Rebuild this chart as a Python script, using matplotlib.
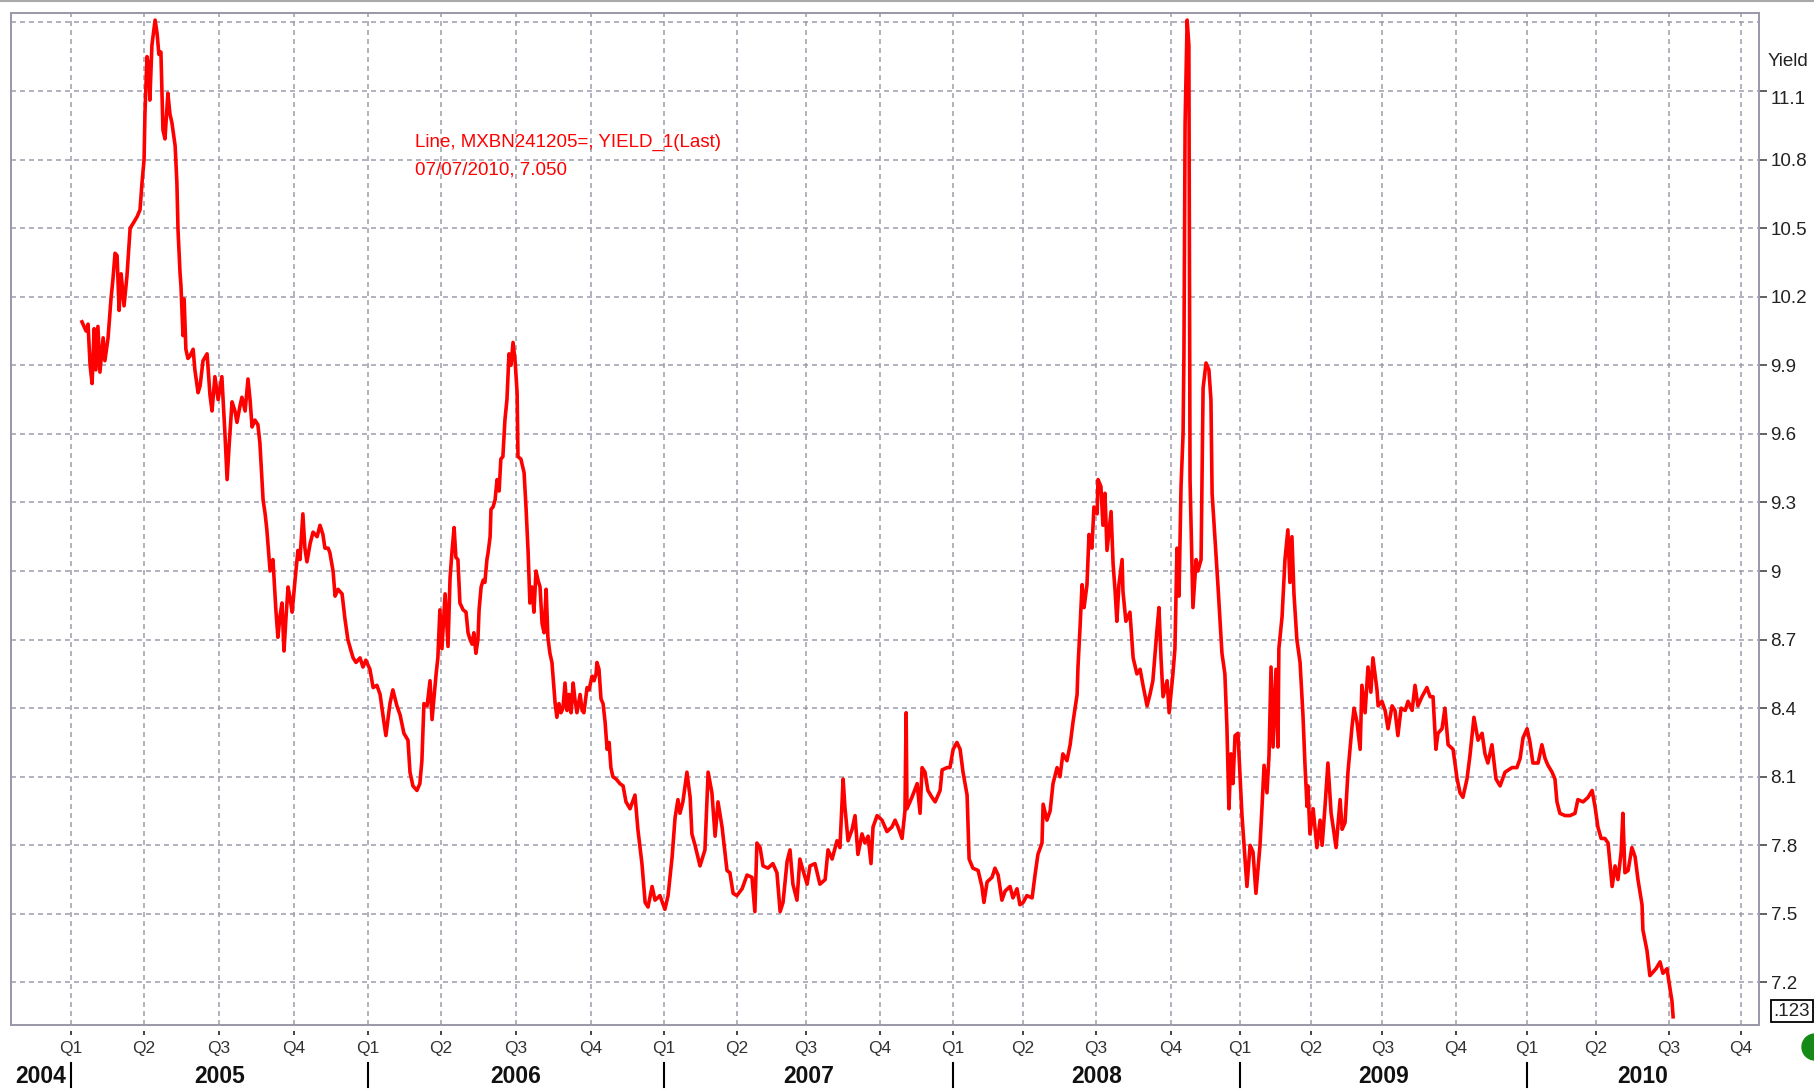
import matplotlib
matplotlib.use("Agg")
import matplotlib.pyplot as plt
import matplotlib.transforms as mtransforms
from matplotlib.lines import Line2D
from matplotlib.patches import Ellipse
import numpy as np

plt.rcParams['font.family'] = ['Liberation Sans', 'DejaVu Sans']

# ---- data (x in chart years, y = yield) ----
t2005 = [2005.036, 2005.043, 2005.050, 2005.057, 2005.064, 2005.071, 2005.078, 2005.084, 2005.091, 2005.098,
         2005.109, 2005.115, 2005.126, 2005.136, 2005.143, 2005.150, 2005.157, 2005.164, 2005.171, 2005.181,
         2005.191, 2005.202, 2005.212, 2005.226, 2005.236, 2005.243, 2005.250, 2005.253, 2005.260, 2005.267,
         2005.270, 2005.277, 2005.288, 2005.295, 2005.301, 2005.308, 2005.315, 2005.322, 2005.332, 2005.339,
         2005.346, 2005.357, 2005.363, 2005.367, 2005.374, 2005.377, 2005.384, 2005.388, 2005.394, 2005.401,
         2005.408, 2005.419, 2005.425, 2005.436, 2005.443, 2005.453, 2005.467, 2005.477, 2005.484, 2005.494,
         2005.505, 2005.518, 2005.529, 2005.536, 2005.543, 2005.553, 2005.563, 2005.570, 2005.580, 2005.587,
         2005.598, 2005.608, 2005.615, 2005.622, 2005.632, 2005.642, 2005.649, 2005.660, 2005.667, 2005.673,
         2005.684, 2005.694, 2005.704, 2005.711, 2005.718, 2005.725, 2005.732, 2005.739, 2005.746, 2005.753,
         2005.760, 2005.770, 2005.780, 2005.787, 2005.797, 2005.804, 2005.811, 2005.822, 2005.832, 2005.846,
         2005.856, 2005.866, 2005.873, 2005.884, 2005.890, 2005.901, 2005.908, 2005.918, 2005.932, 2005.942,
         2005.952, 2005.963, 2005.970, 2005.980, 2005.994]
y2005 = [10.09, 10.07, 10.05, 10.08, 9.90, 9.82, 10.06, 9.88, 10.07, 9.87,
         10.02, 9.92, 10.02, 10.19, 10.28, 10.39, 10.38, 10.14, 10.30, 10.16,
         10.29, 10.50, 10.52, 10.55, 10.58, 10.70, 10.80, 11.00, 11.25, 11.20,
         11.06, 11.30, 11.41, 11.35, 11.26, 11.27, 10.93, 10.89, 11.09, 11.00,
         10.96, 10.86, 10.70, 10.49, 10.30, 10.25, 10.03, 10.19, 9.97, 9.93,
         9.94, 9.97, 9.88, 9.78, 9.81, 9.92, 9.95, 9.77, 9.70, 9.85,
         9.75, 9.85, 9.59, 9.40, 9.55, 9.74, 9.70, 9.65, 9.72, 9.76,
         9.70, 9.84, 9.75, 9.63, 9.66, 9.64, 9.56, 9.31, 9.25, 9.18,
         9.00, 9.05, 8.83, 8.71, 8.80, 8.86, 8.65, 8.80, 8.93, 8.88,
         8.82, 8.96, 9.09, 9.05, 9.25, 9.10, 9.04, 9.12, 9.17, 9.15,
         9.20, 9.16, 9.10, 9.10, 9.08, 9.00, 8.89, 8.92, 8.90, 8.79,
         8.70, 8.65, 8.62, 8.60, 8.62]

t2006 = [2006.004, 2006.014, 2006.028, 2006.039, 2006.052, 2006.063, 2006.076, 2006.083, 2006.097, 2006.107,
         2006.121, 2006.132, 2006.145, 2006.159, 2006.166, 2006.176, 2006.190, 2006.200, 2006.207, 2006.214,
         2006.225, 2006.235, 2006.242, 2006.249, 2006.256, 2006.262, 2006.269, 2006.276, 2006.287, 2006.297,
         2006.304, 2006.311, 2006.318, 2006.324, 2006.331, 2006.338, 2006.349, 2006.359, 2006.366, 2006.373,
         2006.380, 2006.386, 2006.393, 2006.400, 2006.404, 2006.411, 2006.418, 2006.424, 2006.431, 2006.435,
         2006.442, 2006.445, 2006.452, 2006.459, 2006.466, 2006.473, 2006.479, 2006.486, 2006.493, 2006.500,
         2006.507, 2006.514, 2006.521, 2006.528, 2006.535, 2006.538, 2006.548, 2006.559, 2006.566, 2006.573,
         2006.579, 2006.586, 2006.593, 2006.600, 2006.607, 2006.614, 2006.621, 2006.628, 2006.635, 2006.641,
         2006.648, 2006.655, 2006.666, 2006.672, 2006.679, 2006.686, 2006.693, 2006.700, 2006.707, 2006.714,
         2006.721, 2006.728, 2006.734, 2006.741, 2006.752, 2006.759, 2006.765, 2006.776, 2006.783, 2006.793,
         2006.800, 2006.807, 2006.810, 2006.817, 2006.824, 2006.831, 2006.838, 2006.845, 2006.852, 2006.858,
         2006.865, 2006.876, 2006.889, 2006.900, 2006.910, 2006.924, 2006.941, 2006.951, 2006.965, 2006.976,
         2006.986]
y2006 = [8.58, 8.61, 8.57, 8.49, 8.50, 8.46, 8.34, 8.28, 8.42, 8.48,
         8.41, 8.37, 8.29, 8.26, 8.12, 8.06, 8.04, 8.07, 8.17, 8.42,
         8.41, 8.52, 8.35, 8.45, 8.55, 8.62, 8.83, 8.66, 8.90, 8.67,
         8.97, 9.09, 9.19, 9.06, 9.05, 8.86, 8.83, 8.82, 8.73, 8.70,
         8.68, 8.73, 8.64, 8.70, 8.83, 8.93, 8.96, 8.95, 9.05, 9.08,
         9.15, 9.27, 9.28, 9.31, 9.40, 9.35, 9.49, 9.50, 9.66, 9.75,
         9.95, 9.90, 10.00, 9.92, 9.78, 9.50, 9.49, 9.43, 9.27, 9.08,
         8.86, 8.93, 8.82, 9.00, 8.96, 8.93, 8.77, 8.73, 8.92, 8.71,
         8.64, 8.60, 8.42, 8.36, 8.42, 8.38, 8.40, 8.51, 8.39, 8.46,
         8.38, 8.51, 8.44, 8.38, 8.46, 8.39, 8.38, 8.49, 8.48, 8.54,
         8.52, 8.55, 8.60, 8.57, 8.44, 8.42, 8.34, 8.22, 8.25, 8.14,
         8.10, 8.09, 8.07, 8.06, 7.99, 7.96, 8.02, 7.87, 7.72, 7.55,
         7.53]

t2007 = [2007.000, 2007.010, 2007.027, 2007.044, 2007.055, 2007.069, 2007.079, 2007.089, 2007.096, 2007.106,
         2007.120, 2007.131, 2007.137, 2007.148, 2007.165, 2007.182, 2007.193, 2007.206, 2007.217, 2007.227,
         2007.241, 2007.258, 2007.268, 2007.279, 2007.292, 2007.310, 2007.327, 2007.344, 2007.354, 2007.361,
         2007.372, 2007.382, 2007.399, 2007.416, 2007.430, 2007.441, 2007.451, 2007.465, 2007.475, 2007.485,
         2007.499, 2007.509, 2007.520, 2007.534, 2007.544, 2007.561, 2007.578, 2007.596, 2007.606, 2007.620,
         2007.637, 2007.647, 2007.658, 2007.664, 2007.675, 2007.689, 2007.699, 2007.709, 2007.723, 2007.733,
         2007.744, 2007.754, 2007.761, 2007.775, 2007.792, 2007.809, 2007.826, 2007.837, 2007.847, 2007.861,
         2007.871, 2007.875, 2007.878, 2007.895, 2007.913, 2007.923, 2007.930, 2007.940, 2007.950, 2007.964,
         2007.975, 2007.992, 2007.999]
y2007 = [7.62, 7.56, 7.58, 7.52, 7.58, 7.75, 7.92, 8.00, 7.94, 7.99,
         8.12, 8.01, 7.85, 7.80, 7.71, 7.78, 8.12, 8.03, 7.84, 7.99,
         7.88, 7.69, 7.68, 7.59, 7.58, 7.61, 7.67, 7.66, 7.51, 7.81,
         7.79, 7.71, 7.70, 7.72, 7.68, 7.51, 7.55, 7.73, 7.78, 7.63,
         7.56, 7.74, 7.69, 7.63, 7.71, 7.72, 7.63, 7.65, 7.78, 7.74,
         7.82, 7.79, 8.09, 7.97, 7.82, 7.87, 7.93, 7.76, 7.85, 7.81,
         7.84, 7.72, 7.88, 7.93, 7.91, 7.86, 7.88, 7.91, 7.88, 7.83,
         7.95, 8.38, 7.96, 8.01, 8.07, 7.94, 8.14, 8.12, 8.04, 8.01,
         7.99, 8.04, 8.13]

t2008 = [2008.016, 2008.026, 2008.037, 2008.050, 2008.061, 2008.071, 2008.085, 2008.092, 2008.105, 2008.123,
         2008.136, 2008.143, 2008.154, 2008.171, 2008.181, 2008.192, 2008.205, 2008.216, 2008.233, 2008.243,
         2008.257, 2008.267, 2008.278, 2008.291, 2008.309, 2008.319, 2008.329, 2008.343, 2008.347, 2008.360,
         2008.371, 2008.381, 2008.395, 2008.405, 2008.415, 2008.429, 2008.440, 2008.450, 2008.464, 2008.467,
         2008.474, 2008.481, 2008.488, 2008.498, 2008.505, 2008.515, 2008.522, 2008.533, 2008.536, 2008.546,
         2008.553, 2008.560, 2008.567, 2008.581, 2008.588, 2008.595, 2008.601, 2008.608, 2008.619, 2008.622,
         2008.632, 2008.646, 2008.657, 2008.670, 2008.681, 2008.691, 2008.705, 2008.715, 2008.725, 2008.739,
         2008.746, 2008.753, 2008.760, 2008.774, 2008.781, 2008.794, 2008.801, 2008.808, 2008.815, 2008.822,
         2008.829, 2008.832, 2008.836, 2008.843, 2008.849, 2008.853, 2008.860, 2008.863, 2008.874, 2008.880,
         2008.891, 2008.898, 2008.908, 2008.918, 2008.925, 2008.929, 2008.939, 2008.949, 2008.963, 2008.973,
         2008.980, 2008.987, 2008.994]
y2008 = [8.14, 8.14, 8.22, 8.25, 8.22, 8.12, 8.02, 7.74, 7.70, 7.69,
         7.62, 7.55, 7.64, 7.66, 7.70, 7.67, 7.56, 7.60, 7.62, 7.57,
         7.61, 7.54, 7.55, 7.58, 7.57, 7.67, 7.76, 7.81, 7.98, 7.91,
         7.95, 8.07, 8.14, 8.10, 8.20, 8.17, 8.24, 8.34, 8.46, 8.58,
         8.75, 8.94, 8.84, 8.94, 9.16, 9.10, 9.28, 9.25, 9.40, 9.37,
         9.20, 9.34, 9.09, 9.26, 9.03, 8.91, 8.78, 8.94, 9.05, 8.91,
         8.78, 8.82, 8.62, 8.55, 8.57, 8.50, 8.41, 8.46, 8.52, 8.74,
         8.84, 8.62, 8.45, 8.52, 8.38, 8.55, 8.66, 9.10, 8.89, 9.37,
         9.60, 9.95, 10.96, 11.41, 11.30, 9.40, 9.00, 8.84, 9.05, 9.00,
         9.05, 9.80, 9.91, 9.88, 9.75, 9.34, 9.14, 8.94, 8.64, 8.55,
         8.32, 7.96, 8.20]

t2009 = [2009.001, 2009.008, 2009.018, 2009.032, 2009.042, 2009.049, 2009.060, 2009.070, 2009.080, 2009.094,
         2009.101, 2009.108, 2009.118, 2009.125, 2009.132, 2009.139, 2009.149, 2009.156, 2009.159, 2009.170,
         2009.180, 2009.190, 2009.197, 2009.204, 2009.211, 2009.221, 2009.232, 2009.242, 2009.249, 2009.256,
         2009.259, 2009.266, 2009.277, 2009.290, 2009.301, 2009.308, 2009.318, 2009.328, 2009.339, 2009.346,
         2009.356, 2009.370, 2009.377, 2009.387, 2009.397, 2009.411, 2009.418, 2009.428, 2009.439, 2009.445,
         2009.456, 2009.466, 2009.476, 2009.483, 2009.497, 2009.501, 2009.514, 2009.525, 2009.535, 2009.549,
         2009.559, 2009.569, 2009.580, 2009.594, 2009.604, 2009.618, 2009.628, 2009.638, 2009.652, 2009.669,
         2009.680, 2009.690, 2009.700, 2009.707, 2009.721, 2009.731, 2009.742, 2009.759, 2009.773, 2009.783,
         2009.793, 2009.807, 2009.817, 2009.831, 2009.845, 2009.859, 2009.869, 2009.879, 2009.893, 2009.907,
         2009.921, 2009.938, 2009.962, 2009.979, 2009.990]
y2009 = [8.07, 8.28, 8.29, 7.93, 7.75, 7.62, 7.80, 7.77, 7.59, 7.80,
         7.97, 8.15, 8.03, 8.19, 8.58, 8.23, 8.57, 8.23, 8.66, 8.80,
         9.05, 9.18, 8.95, 9.15, 8.90, 8.70, 8.60, 8.37, 8.15, 7.97,
         8.06, 7.85, 7.96, 7.79, 7.91, 7.80, 7.97, 8.16, 7.94, 7.88,
         7.79, 8.00, 7.87, 7.90, 8.12, 8.32, 8.40, 8.34, 8.22, 8.50,
         8.38, 8.58, 8.47, 8.62, 8.48, 8.41, 8.43, 8.39, 8.31, 8.41,
         8.39, 8.28, 8.40, 8.39, 8.43, 8.39, 8.50, 8.41, 8.45, 8.49,
         8.45, 8.45, 8.22, 8.29, 8.31, 8.40, 8.24, 8.22, 8.09, 8.03,
         8.01, 8.09, 8.19, 8.36, 8.26, 8.29, 8.20, 8.16, 8.24, 8.09,
         8.06, 8.12, 8.14, 8.14, 8.18]

t2010 = [2010.000, 2010.014, 2010.024, 2010.034, 2010.052, 2010.065, 2010.076, 2010.086, 2010.100, 2010.110,
         2010.117, 2010.127, 2010.145, 2010.162, 2010.179, 2010.189, 2010.207, 2010.224, 2010.238, 2010.248,
         2010.258, 2010.269, 2010.282, 2010.293, 2010.307, 2010.317, 2010.327, 2010.338, 2010.344, 2010.351,
         2010.362, 2010.375, 2010.386, 2010.396, 2010.410, 2010.413, 2010.427, 2010.437, 2010.444, 2010.458,
         2010.472, 2010.482, 2010.496, 2010.503, 2010.513, 2010.517]
y2010 = [8.27, 8.31, 8.25, 8.16, 8.16, 8.24, 8.18, 8.15, 8.12, 8.09,
         7.99, 7.94, 7.93, 7.93, 7.94, 8.00, 7.99, 8.01, 8.04, 7.97,
         7.88, 7.83, 7.83, 7.81, 7.62, 7.71, 7.65, 7.77, 7.94, 7.68,
         7.69, 7.79, 7.75, 7.65, 7.54, 7.43, 7.34, 7.23, 7.24, 7.26,
         7.29, 7.24, 7.26, 7.20, 7.12, 7.05]

# quarter ticks as placed on the chart
quarter_pos = [2004.998, 2005.250, 2005.508, 2005.766,
               2006.021, 2006.273, 2006.531, 2006.790,
               2007.041, 2007.292, 2007.530, 2007.785,
               2008.037, 2008.277, 2008.529, 2008.786,
               2009.025, 2009.270, 2009.515, 2009.769,
               2010.014, 2010.252, 2010.503, 2010.751]
quarter_labels = ["Q1", "Q2", "Q3", "Q4"] * 6
year_labels = ["2004", "2005", "2006", "2007", "2008", "2009", "2010"]
yield_ticks = [7.2, 7.5, 7.8, 8.1, 8.4, 8.7, 9.0, 9.3, 9.6, 9.9, 10.2, 10.5, 10.8, 11.1]

legend_line1 = "Line, MXBN241205=, YIELD_1(Last)"
legend_line2 = "07/07/2010, 7.050"

t_all = t2005 + t2006 + t2007 + t2008 + t2009 + t2010
y_all = y2005 + y2006 + y2007 + y2008 + y2009 + y2010

W, H = 1815, 1089
fig = plt.figure(figsize=(W / 100, H / 100), dpi=100)
ax = fig.add_axes([11 / W, (H - 1025) / H, 1748 / W, 1012 / H])

grid_col = '#9a9aaa'
dash = (0, (3.3, 2.7))

ax.plot(t_all, y_all, color='#ff0000', lw=2.6, zorder=3)

ax.set_xlim(2004.7916, 2010.8129)
ax.set_ylim(7.014, 11.441)

# y axis on the right
ax.yaxis.tick_right()
ax.set_yticks(yield_ticks)
ax.set_yticklabels(['%g' % round(v, 1) for v in yield_ticks])
ax.tick_params(axis='y', length=5.8, width=1.3, color='#555555', pad=2.5,
               labelsize=13.5, labelcolor='#222222')
# top label sits a bit lower, under "Yield"
top_lab = ax.get_yticklabels()[-1]
top_lab.set_transform(top_lab.get_transform() +
                      mtransforms.ScaledTranslation(0, -7 / 100, fig.dpi_scale_trans))
ax.axhline(11.4, color=grid_col, lw=1.08, linestyle=dash, zorder=1)

# quarters on x
ax.set_xticks(quarter_pos)
ax.set_xticklabels(quarter_labels)
ax.tick_params(axis='x', length=0, pad=11.8, labelsize=12.5, labelcolor='#333333')

ax.grid(True, color=grid_col, lw=1.08, linestyle=dash, zorder=1)
ax.set_axisbelow(True)

for s in ax.spines.values():
    s.set_color('#9898a8')
    s.set_linewidth(1.4)

trans = mtransforms.blended_transform_factory(ax.transData, ax.transAxes)

# little quarter marks under the frame
ax.plot(quarter_pos, [-0.0079] * len(quarter_pos), transform=trans, clip_on=False,
        linestyle='none', marker='|', markersize=3.2, markeredgewidth=1.4, color='#444444')

# year separators and year names
year_edges = [ax.get_xlim()[0]] + quarter_pos[::4] + [ax.get_xlim()[1]]
for x in quarter_pos[::4]:
    ax.plot([x, x], [-0.0375, -0.0613], transform=trans, clip_on=False, color='black', lw=1.5)
for i, lab in enumerate(year_labels):
    xc = (year_edges[i] + year_edges[i + 1]) / 2
    ax.text(xc, -0.0504, lab, transform=trans, ha='center', va='center',
            fontsize=16.5, fontweight='bold', color='#111111')

# series caption
fig.text(415 / W, 1 - 142 / H, legend_line1, color='#ff0000', fontsize=13.5, va='center', ha='left')
fig.text(415 / W, 1 - 170 / H, legend_line2, color='#ff0000', fontsize=13.5, va='center', ha='left')

fig.text(1768 / W, 1 - 62 / H, "Yield", fontsize=13.5, color='#222222', va='center', ha='left')

# small scale box and status dot in the corner
fig.text(1792 / W, 1 - 1011 / H, ".123", fontsize=13.5, color='#222222', ha='center', va='center',
         bbox=dict(boxstyle='square,pad=0.15', fc='white', ec='black', lw=1.3))
fig.add_artist(Ellipse((1815 / W, 1 - 1047 / H), 26 / W, 26 / H, transform=fig.transFigure,
                       color='#168a16'))
fig.add_artist(Line2D([0, 1], [1 - 1 / H, 1 - 1 / H], transform=fig.transFigure,
                      color='#a8a8a8', lw=1.5))

plt.savefig("out.png", dpi=100)
